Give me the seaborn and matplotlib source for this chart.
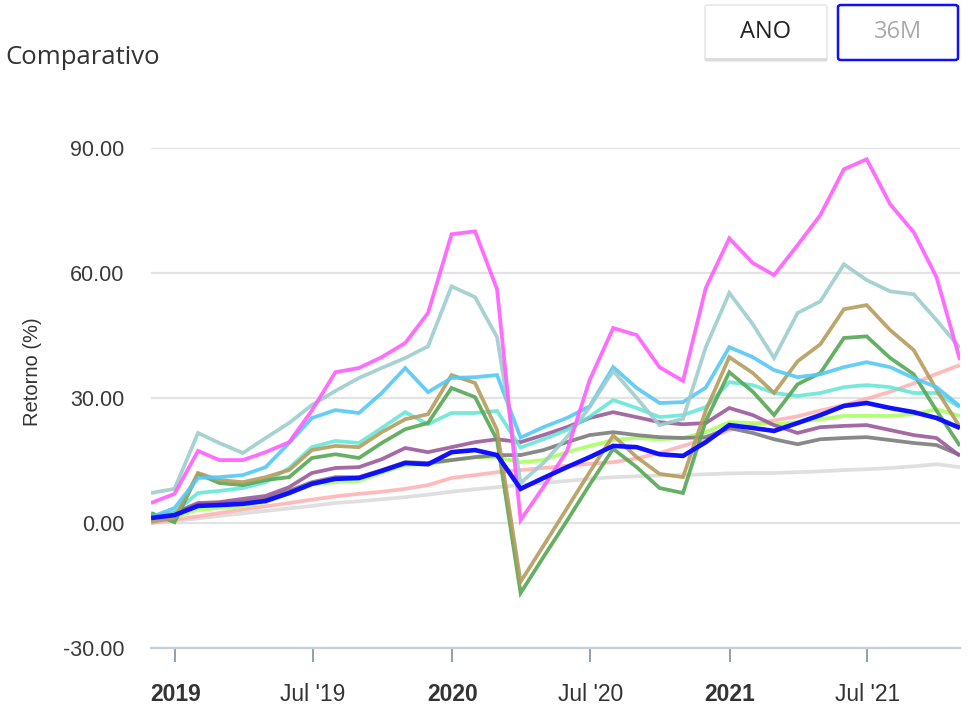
import matplotlib
matplotlib.use("Agg")
import matplotlib.pyplot as plt
from matplotlib.patches import FancyBboxPatch, Rectangle
import numpy as np
import pandas as pd
import seaborn as sns

# ---------------- data ----------------
start_month = "2018-11-30"
n_months = 36

series_names = ["Serie A", "Serie B", "Serie C", "Serie D", "Serie E", "Serie F",
                "Serie G", "Serie H", "Serie I", "Fundo", "Indice 1", "Indice 2"]

serie_a = [4.8, 7.0, 17.3, 15.1, 15.1, 17.0, 19.4, 27.0, 36.2, 37.2, 39.8, 43.2,
           50.4, 69.3, 70.0, 56.1, 0.7, 8.6, 17.2, 34.3, 46.8, 45.1, 37.4, 34.1,
           56.4, 68.3, 62.4, 59.5, 66.7, 73.9, 84.9, 87.3, 76.5, 69.8, 59.0, 39.1]
serie_b = [7.2, 8.2, 21.6, 19.2, 16.8, 20.4, 24.0, 28.3, 31.7, 34.8, 37.2, 39.6,
           42.4, 56.8, 54.2, 44.6, 9.6, 14.4, 20.6, 27.8, 36.5, 30.0, 23.5, 25.0,
           42.2, 55.2, 47.7, 39.6, 50.4, 53.2, 62.1, 58.3, 55.6, 54.9, 48.7, 42.0]
serie_c = [1.4, 3.6, 10.8, 11.0, 11.5, 13.4, 19.2, 25.2, 27.1, 26.4, 31.2, 37.2,
           31.4, 34.8, 35.0, 35.5, 20.5, 23.0, 25.2, 28.0, 37.4, 32.4, 28.8, 29.0,
           32.5, 42.2, 39.8, 36.7, 35.0, 35.7, 37.4, 38.6, 37.4, 34.8, 32.6, 28.0]
serie_d = [0.3, 1.2, 12.0, 10.3, 9.8, 11.0, 12.7, 17.5, 18.5, 18.2, 21.8, 24.9,
           26.1, 35.5, 33.6, 22.3, -14.1, -5.5, 3.5, 12.2, 21.0, 15.8, 11.8, 11.0,
           27.0, 39.8, 36.0, 31.2, 38.8, 42.9, 51.3, 52.3, 46.3, 41.5, 32.0, 23.0]
serie_e = [2.4, 0.2, 11.8, 9.6, 9.1, 10.3, 11.0, 15.6, 16.5, 15.6, 19.2, 22.5,
           24.0, 32.4, 30.2, 19.9, -16.8, -8.2, 0.5, 9.2, 17.8, 13.4, 8.4, 7.2,
           24.5, 36.2, 31.5, 25.9, 33.3, 36.0, 44.4, 44.8, 39.6, 35.7, 27.0, 18.5]
serie_f = [1.4, 2.6, 7.2, 7.7, 8.4, 9.8, 13.2, 18.2, 19.7, 19.2, 22.8, 26.6,
           23.7, 26.4, 26.4, 26.9, 18.1, 20.1, 22.3, 25.5, 29.5, 27.6, 25.4, 25.9,
           27.8, 33.8, 33.1, 31.2, 30.5, 31.2, 32.6, 33.1, 32.6, 31.2, 31.2, 27.8]
serie_g = [1.4, 2.4, 4.8, 5.0, 5.8, 6.5, 8.6, 12.0, 13.2, 13.4, 15.3, 18.0,
           17.0, 18.2, 19.4, 20.1, 19.4, 21.1, 23.0, 25.2, 26.6, 25.4, 24.2, 23.7,
           24.0, 27.6, 25.9, 23.5, 21.6, 23.0, 23.3, 23.5, 22.3, 21.1, 20.4, 16.1]
serie_h = [1.5, 2.3, 4.5, 4.8, 5.1, 5.8, 7.7, 9.8, 11.0, 11.0, 12.7, 14.6,
           14.4, 15.1, 15.8, 16.3, 16.3, 17.5, 19.4, 21.1, 21.8, 21.1, 20.6, 20.4,
           20.6, 22.8, 21.6, 20.1, 18.9, 20.1, 20.4, 20.6, 19.9, 19.2, 18.7, 16.3]
serie_i = [0.5, 1.5, 3.2, 3.6, 4.0, 5.0, 7.0, 9.2, 9.8, 10.1, 12.0, 13.9,
           14.1, 15.1, 15.8, 15.8, 14.6, 15.1, 17.0, 18.5, 19.9, 20.4, 20.1, 20.4,
           21.8, 24.2, 24.0, 23.7, 24.2, 24.9, 25.7, 25.7, 25.7, 26.1, 27.3, 25.7]
fundo = [1.2, 1.9, 4.1, 4.3, 4.6, 5.3, 7.2, 9.4, 10.6, 10.8, 12.5, 14.4,
         14.1, 17.0, 17.5, 16.3, 8.2, 10.8, 13.4, 15.8, 18.5, 18.2, 16.5, 16.1,
         19.4, 23.5, 22.8, 22.1, 24.0, 25.9, 28.1, 28.8, 27.6, 26.6, 25.2, 22.8]
indice_1 = [0.0, 0.8, 1.6, 2.4, 3.2, 4.0, 4.8, 5.6, 6.4, 7.0, 7.5, 8.2,
            9.1, 10.8, 11.5, 12.2, 12.7, 13.2, 13.7, 14.2, 14.6, 15.5, 16.8, 18.5,
            20.2, 22.3, 23.6, 24.6, 25.6, 27.0, 28.3, 29.8, 31.5, 33.5, 35.8, 37.9]
indice_2 = [0.0, 0.5, 1.1, 1.7, 2.3, 2.9, 3.5, 4.1, 4.8, 5.2, 5.7, 6.2,
            6.8, 7.5, 8.1, 8.6, 9.1, 9.6, 10.1, 10.6, 11.0, 11.2, 11.4, 11.5,
            11.7, 11.9, 12.0, 12.0, 12.2, 12.4, 12.7, 12.9, 13.2, 13.6, 14.1, 13.4]

y_ticks = [-30, 0, 30, 60, 90]
x_tick_dates = ["2019-01-01", "2019-07-01", "2020-01-01", "2020-07-01", "2021-01-01", "2021-07-01"]
x_tick_labels = ["2019", "Jul '19", "2020", "Jul '20", "2021", "Jul '21"]
x_tick_bold = [True, False, True, False, True, False]

# ---------------- styles ----------------
styles = {
    "Indice 2": dict(color="#dcdcdc", lw=2.7, alpha=0.9),
    "Indice 1": dict(color="#ffb0b0", lw=2.7, alpha=0.85),
    "Serie I": dict(color="#a6ff5c", lw=2.7, alpha=0.85),
    "Serie H": dict(color="#7c7c7c", lw=2.7, alpha=0.9),
    "Serie G": dict(color="#9a5a9a", lw=2.7, alpha=0.9),
    "Serie F": dict(color="#5ee6d6", lw=2.7, alpha=0.85),
    "Serie E": dict(color="#55a855", lw=2.7, alpha=0.9),
    "Serie D": dict(color="#b59c5c", lw=2.7, alpha=0.9),
    "Serie C": dict(color="#55c8f5", lw=2.7, alpha=0.9),
    "Serie B": dict(color="#9ecdcd", lw=2.7, alpha=0.9),
    "Serie A": dict(color="#ff5cff", lw=2.7, alpha=0.9),
    "Fundo": dict(color="#1010ff", lw=3.3, alpha=1.0),
}

values = dict(zip(series_names, [serie_a, serie_b, serie_c, serie_d, serie_e, serie_f,
                                 serie_g, serie_h, serie_i, fundo, indice_1, indice_2]))
dates = pd.date_range(start_month, periods=n_months, freq="ME")
df = pd.DataFrame({"data": np.tile(dates, len(series_names)),
                   "serie": np.repeat(series_names, n_months),
                   "retorno": np.concatenate([values[s] for s in series_names])})

sns.set_theme(style="white")
plt.rcParams["font.family"] = ["Liberation Sans", "DejaVu Sans"]

W, H = 968, 706
fig = plt.figure(figsize=(W / 100, H / 100), dpi=100)
ax = fig.add_axes([151 / W, 1 - 648 / H, (960 - 151) / W, 500 / H])

for name in styles:
    st = styles[name]
    sns.lineplot(data=df[df["serie"] == name], x="data", y="retorno", ax=ax,
                 color=st["color"], linewidth=st["lw"], alpha=st["alpha"],
                 legend=False, solid_joinstyle="miter", solid_capstyle="butt")

ax.set_xlim(dates[0], dates[-1])
ax.set_ylim(y_ticks[0], y_ticks[-1])
ax.set_yticks(y_ticks)
ax.set_yticklabels([f"{v:.2f}" for v in y_ticks], fontsize=15.5, color="#3a3a3a")
ax.tick_params(axis="y", length=0, pad=19)
ax.set_xticks(pd.to_datetime(x_tick_dates))
ax.set_xticklabels(x_tick_labels, fontsize=16.5, color="#333333")
for lab, b in zip(ax.get_xticklabels(), x_tick_bold):
    if b:
        lab.set_fontweight("bold")
ax.tick_params(axis="x", length=10, width=1.3, color="#8a97a5", pad=15, direction="out",
               bottom=True)
ax.set_xlabel("")
ax.set_ylabel("")
ax.yaxis.grid(True, color="#e3e3e3", linewidth=1.6)
ax.xaxis.grid(False)
ax.set_axisbelow(True)
for s in ["top", "right", "left"]:
    ax.spines[s].set_visible(False)
ax.spines["bottom"].set_color("#c9cfd6")
ax.spines["bottom"].set_linewidth(1.6)

fig.text(33 / W, 1 - 372 / H, "Retorno (%)", rotation=90, ha="center", va="center",
         fontsize=14.5, color="#333333")
fig.text(5 / W, 1 - 57 / H, "Comparativo", ha="left", va="center",
         fontsize=18.5, color="#333333", family="Open Sans")

# buttons
def button(x0, x1, y0, y1, text, edge, tcolor, lw, bottom_bar=False):
    box = FancyBboxPatch((x0 / W, 1 - y1 / H), (x1 - x0) / W, (y1 - y0) / H,
                         boxstyle="round,pad=0,rounding_size=0.003",
                         transform=fig.transFigure, facecolor="white",
                         edgecolor=edge, linewidth=lw)
    fig.patches.append(box)
    if bottom_bar:
        fig.patches.append(Rectangle((x0 / W, 1 - y1 / H), (x1 - x0) / W, 3.5 / H,
                                     transform=fig.transFigure, facecolor="#dcdcdc",
                                     edgecolor="none"))
    fig.text((x0 + x1) / 2 / W, 1 - ((y0 + y1) / 2 - 1) / H, text, ha="center",
             va="center", fontsize=17, color=tcolor, family="Open Sans")

button(705, 827, 5, 61, "ANO", "#e8e8e8", "#222222", 1.2, bottom_bar=True)
button(838, 958, 5, 60, "36M", "#1010ff", "#aaaaaa", 1.8)

fig.savefig("out.png", dpi=100, facecolor="white")
